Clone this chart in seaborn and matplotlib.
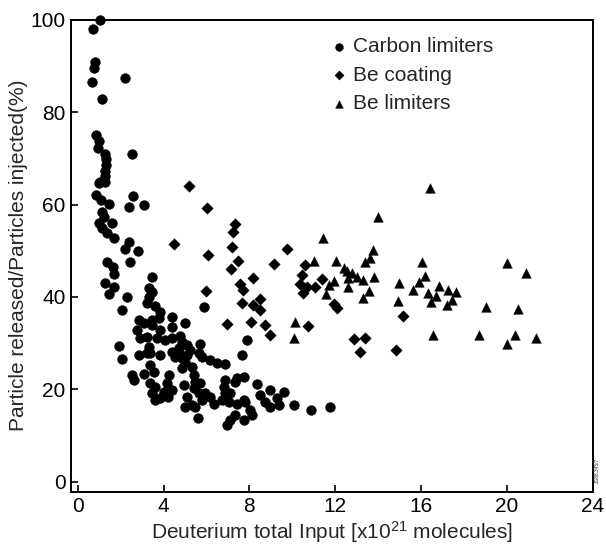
import matplotlib
matplotlib.use("Agg")
import matplotlib.pyplot as plt
import seaborn as sns
import pandas as pd

# ---------------- data ----------------
carbon_x = [1.02, 0.72, 0.82, 0.77, 0.66, 2.21, 1.14, 0.86, 0.99, 0.92, 1.28, 1.30, 1.30, 1.28, 1.25, 0.97, 2.51,
            1.05, 1.28, 0.86, 1.08, 1.44, 2.57, 2.37, 3.10, 1.13, 1.20, 0.97, 1.59, 1.13, 1.36, 1.67, 2.37, 2.21,
            2.79, 2.41, 1.36, 1.62, 1.67, 3.46, 1.28, 1.67, 1.44, 2.29, 3.30, 3.46, 3.30,
            3.23, 3.61, 3.85, 3.77, 3.46, 2.83, 3.07, 3.46, 2.76, 3.85, 2.91, 3.23, 2.06, 4.39, 5.01, 4.39, 3.69,
            4.08, 4.39, 4.78, 4.86, 5.09, 4.70, 5.24, 5.71, 1.90, 3.30, 3.38, 3.85, 5.63, 5.90, 7.89,
            2.06, 2.84, 3.22, 4.39, 4.70, 4.86, 5.09, 5.79, 6.18, 6.49, 6.88, 2.53, 2.60, 3.07, 3.38, 3.53, 3.38,
            3.61, 4.23, 4.16, 4.00, 4.39, 3.85, 3.61, 3.46, 4.86, 5.32, 5.40, 5.48, 5.71, 4.93, 5.40, 5.63, 5.94,
            5.09, 5.01, 5.32, 5.79, 6.18, 6.33, 5.59, 6.88, 7.34, 7.42, 6.80, 6.88, 6.72, 7.03, 7.42, 7.73, 6.96,
            7.11, 7.34, 7.73, 7.65, 7.76, 8.35, 7.11, 7.81, 8.04, 8.12, 8.50, 8.94, 8.74, 8.97, 9.36, 9.59, 9.29,
            10.09, 10.87, 11.74, 4.53, 5.00, 4.21, 5.48]
carbon_y = [100.0, 98.0, 91.0, 89.5, 86.5, 87.4, 82.8, 75.0, 73.8, 72.3, 71.0, 69.8, 68.6, 67.3, 66.2, 64.7, 70.9,
            65.0, 65.0, 62.1, 61.0, 60.1, 61.9, 59.5, 59.9, 58.5, 57.4, 56.1, 56.1, 54.9, 53.8, 52.7, 52.0, 50.3,
            50.0, 47.6, 47.6, 46.4, 45.0, 44.4, 43.1, 42.1, 40.6, 40.0, 41.9, 41.1, 40.0,
            38.6, 38.0, 36.8, 35.4, 35.1, 35.0, 34.3, 33.9, 32.8, 32.8, 31.0, 31.4, 37.2, 35.7, 34.3, 33.4, 31.0,
            30.7, 31.0, 31.5, 30.3, 29.6, 28.9, 28.5, 29.9, 29.4, 29.2, 27.8, 27.4, 27.9, 37.9, 30.7,
            26.5, 27.4, 27.8, 28.1, 27.8, 26.7, 27.4, 27.0, 26.3, 25.7, 25.5, 23.1, 22.0, 23.3, 25.2, 23.8, 21.3,
            20.5, 23.1, 21.3, 19.5, 19.8, 18.0, 17.7, 19.1, 24.5, 24.9, 23.1, 21.6, 21.3, 20.9, 20.2, 19.1, 19.1,
            18.4, 16.2, 16.6, 17.7, 18.4, 16.9, 13.7, 22.0, 21.6, 22.4, 20.5, 19.1, 17.7, 17.3, 16.9, 17.7, 12.2,
            13.3, 14.4, 13.3, 27.4, 22.7, 21.1, 19.1, 17.3, 15.5, 14.4, 18.7, 19.8, 17.3, 16.2, 16.6, 19.5, 18.0,
            16.6, 15.6, 16.2, 27.0, 25.9, 18.3, 16.2]

coating_x = [5.17, 6.00, 7.34, 7.24, 4.47, 7.19, 6.05, 7.45, 7.14, 8.17, 7.58, 7.70, 5.99, 8.51, 8.17, 8.51,
             7.66, 6.96, 8.07, 8.74, 8.97, 9.75, 9.13, 10.60, 10.45, 10.37, 10.50, 10.69, 11.38, 11.06, 11.93,
             12.08, 10.73, 12.89, 13.37, 13.17, 15.15, 14.82]
coating_y = [64.0, 59.2, 55.7, 54.0, 51.4, 50.9, 49.1, 47.8, 46.0, 44.0, 42.9, 41.5, 41.3, 39.5, 38.2, 37.2,
             38.7, 34.1, 34.6, 33.9, 31.7, 50.3, 47.1, 46.9, 44.7, 42.9, 40.9, 42.2, 43.8, 42.2, 38.5,
             37.5, 33.7, 30.8, 31.2, 28.0, 35.8, 28.6]

belim_x = [11.41, 11.03, 11.93, 11.69, 11.57, 12.05, 12.39, 12.55, 12.78, 13.02, 13.30, 12.62, 12.62, 13.76,
           13.64, 13.40, 13.79, 13.56, 13.28, 14.00, 16.41, 16.06, 16.21, 15.93, 14.99, 16.85, 17.25, 17.65,
           15.63, 16.33, 16.69, 16.45, 17.44, 17.20, 14.91, 20.00, 20.91, 19.05, 20.51, 16.58, 18.71, 20.40,
           19.99, 21.38, 10.11, 10.06]
belim_y = [52.8, 47.8, 43.5, 42.6, 40.6, 47.8, 46.2, 45.7, 45.1, 44.4, 43.7, 44.0, 42.2, 50.2,
           48.4, 47.6, 44.4, 41.3, 39.7, 57.4, 63.5, 47.6, 44.6, 43.2, 43.1, 42.4, 41.4, 41.1,
           41.4, 40.8, 40.2, 38.8, 39.4, 38.2, 39.1, 47.4, 45.2, 37.8, 37.3, 31.7, 31.7, 31.7,
           29.9, 31.2, 34.5, 31.0]

series_names = ["Carbon limiters", "Be coating", "Be limiters"]
x_ticks = [0, 4, 8, 12, 16, 20, 24]
y_ticks = [0, 20, 40, 60, 80, 100]
x_label = "Deuterium total Input [x10$^{21}$ molecules]"
y_label = "Particle released/Particles injected(%)"

# ---------------- build frame ----------------
df = pd.concat([
    pd.DataFrame({"x": carbon_x, "y": carbon_y, "series": series_names[0]}),
    pd.DataFrame({"x": coating_x, "y": coating_y, "series": series_names[1]}),
    pd.DataFrame({"x": belim_x, "y": belim_y, "series": series_names[2]}),
], ignore_index=True)

sns.set_style("ticks")
plt.rcParams["font.family"] = ["Liberation Sans", "DejaVu Sans"]
plt.rcParams["mathtext.fontset"] = "custom"
plt.rcParams["mathtext.rm"] = "Liberation Sans"
plt.rcParams["mathtext.it"] = "Liberation Sans"

fig = plt.figure(figsize=(6.06, 5.44), dpi=100)
ax = fig.add_axes([71 / 606, 1 - 491.7 / 544, (592.5 - 71) / 606, (491.7 - 19.5) / 544])

markers = {series_names[0]: "o", series_names[1]: "D", series_names[2]: "^"}
sizes = {series_names[0]: 50, series_names[1]: 34, series_names[2]: 48}
for name in series_names:
    sub = df[df["series"] == name]
    sns.scatterplot(data=sub, x="x", y="y", ax=ax, marker=markers[name], s=sizes[name],
                    color="black", edgecolor="black", linewidth=0.3, label=name, clip_on=False, zorder=3)

ax.set_xlim(-0.32, 24.0)
ax.set_ylim(-2.2, 100.1)
ax.set_xticks(x_ticks)
ax.set_yticks(y_ticks)
ax.tick_params(direction="in", length=5, width=1.2, labelsize=15, colors="black", pad=4)
for sp in ax.spines.values():
    sp.set_linewidth(1.4)
    sp.set_color("black")
    sp.set_visible(True)

ax.set_xlabel(x_label, fontsize=15, labelpad=2)
ax.set_ylabel(y_label, fontsize=15, labelpad=2)

leg = ax.legend(loc="upper left", bbox_to_anchor=(0.502, 0.962), frameon=False, fontsize=15,
                handlelength=0.6, handletextpad=0.35, labelspacing=0.45, borderpad=0, borderaxespad=0,
                markerscale=0.8)

fig.text(597 / 606, 1 - 470 / 544, "JG88.345/7", rotation=90, fontsize=3.5, ha="center", va="center")

fig.savefig("out.png", dpi=100)
